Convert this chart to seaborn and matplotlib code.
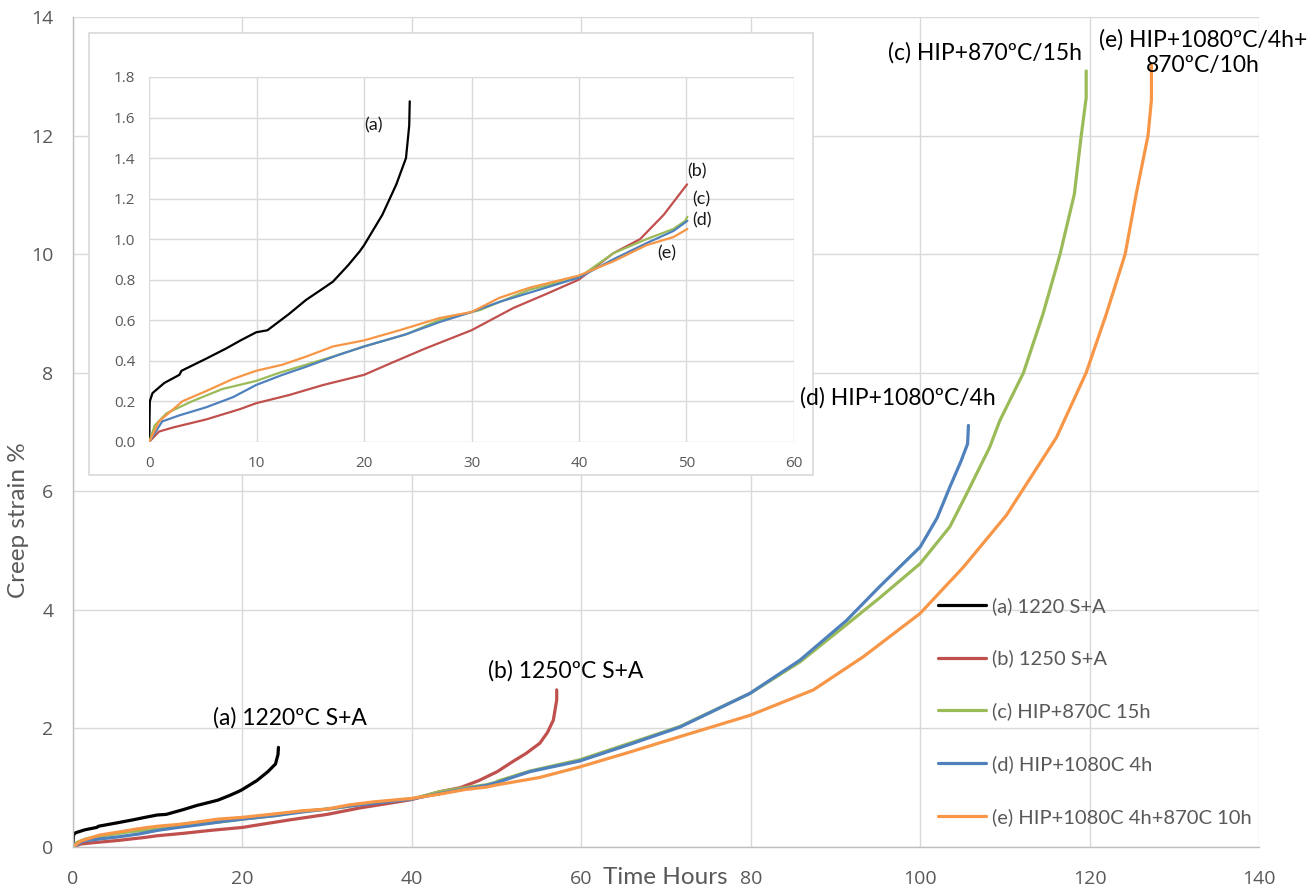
import numpy as np
import pandas as pd
import matplotlib
matplotlib.use("Agg")
import matplotlib.pyplot as plt
from matplotlib.patches import Rectangle
from matplotlib.lines import Line2D
import seaborn as sns

# ---------------- data ----------------
series_names = ["(a) 1220 S+A", "(b) 1250 S+A", "(c) HIP+870C 15h",
                "(d) HIP+1080C 4h", "(e) HIP+1080C 4h+870C 10h"]
series_colors = ["#000000", "#c0504d", "#9bbb59", "#4f81bd", "#f79646"]

t_a = [0, 0.02, 0.05, 0.3, 1.4, 2.8, 3.0, 5.3, 7.15, 8.5, 9.95, 11.0, 11.5, 13.0,
       14.6, 16.0, 17.1, 18.5, 19.6, 20.0, 21.7, 23.0, 23.9, 24.2, 24.25]
s_a = [0, 0.12, 0.20, 0.24, 0.29, 0.33, 0.35, 0.41, 0.46, 0.50, 0.54, 0.55, 0.57, 0.63,
       0.70, 0.75, 0.79, 0.87, 0.94, 0.97, 1.12, 1.27, 1.40, 1.56, 1.68]

t_b = [0, 0.9, 2.2, 5.3, 8.4, 9.95, 13.0, 16.2, 20.0, 22.6, 25.7, 30.0, 33.9, 37.0,
       40.0, 43.2, 45.7, 47.9, 50.07, 51.9, 53.5, 55.1, 56.0, 56.7, 57.1, 57.1]
s_b = [0, 0.05, 0.07, 0.11, 0.16, 0.19, 0.23, 0.28, 0.33, 0.39, 0.46, 0.55, 0.66, 0.73,
       0.80, 0.93, 1.00, 1.12, 1.27, 1.44, 1.58, 1.75, 1.93, 2.14, 2.48, 2.65]

t_c = [0, 0.5, 1.6, 4.0, 6.8, 9.95, 12.1, 14.6, 17.7, 20.0, 23.9, 27.0, 30.8, 35.4,
       40.0, 43.2, 46.3, 48.8, 49.9, 50.1, 53.9, 59.8, 65.7, 71.6, 79.9, 85.8, 91.3,
       95.2, 100.0, 103.5, 105.5, 108.2, 109.4, 112.2, 114.5, 116.5, 118.2, 119.0,
       119.6, 119.6]
s_c = [0, 0.08, 0.14, 0.20, 0.26, 0.30, 0.34, 0.38, 0.43, 0.47, 0.53, 0.60, 0.65, 0.75,
       0.81, 0.93, 1.00, 1.05, 1.09, 1.11, 1.28, 1.47, 1.75, 2.03, 2.59, 3.12, 3.75,
       4.20, 4.78, 5.40, 5.96, 6.74, 7.19, 8.00, 8.99, 9.99, 11.01, 11.98,
       12.64, 13.09]

t_d = [0, 1.2, 2.8, 5.3, 7.8, 9.95, 12.4, 14.6, 17.7, 20.0, 23.9, 27.0, 30.0, 32.6,
       40.0, 43.2, 46.3, 48.8, 50.1, 53.9, 59.8, 65.7, 71.6, 79.9, 85.8, 91.3, 95.2,
       100.0, 102.0, 103.5, 104.8, 105.6, 105.7]
s_d = [0, 0.10, 0.13, 0.17, 0.22, 0.28, 0.33, 0.37, 0.43, 0.47, 0.53, 0.59, 0.64, 0.69,
       0.81, 0.90, 0.98, 1.04, 1.09, 1.27, 1.45, 1.73, 2.02, 2.59, 3.15, 3.82, 4.39,
       5.06, 5.55, 6.07, 6.50, 6.80, 7.11]

t_e = [0, 0.9, 3.1, 5.3, 7.8, 9.95, 12.4, 14.6, 17.1, 20.0, 23.3, 27.0, 30.0, 32.6,
       35.4, 40.0, 43.2, 46.3, 48.8, 50.1, 55.0, 59.8, 65.7, 71.6, 79.9, 87.4, 93.3,
       100.0, 105.1, 110.2, 116.1, 119.6, 122.0, 124.2, 125.5, 126.9, 127.3, 127.3]
s_e = [0, 0.10, 0.20, 0.25, 0.31, 0.35, 0.38, 0.42, 0.47, 0.50, 0.55, 0.61, 0.64, 0.71,
       0.76, 0.82, 0.89, 0.97, 1.01, 1.05, 1.17, 1.35, 1.60, 1.86, 2.22, 2.65, 3.21,
       3.94, 4.72, 5.60, 6.91, 8.00, 9.00, 10.0, 11.01, 12.0, 12.6, 13.2]

main_xticks = [0, 20, 40, 60, 80, 100, 120, 140]
main_yticks = [0, 2, 4, 6, 8, 10, 12, 14]
inset_xticks = [0, 10, 20, 30, 40, 50, 60]
inset_yticks = [0.0, 0.2, 0.4, 0.6, 0.8, 1.0, 1.2, 1.4, 1.6, 1.8]
inset_tmax = 50.1

main_notes = ["(a) 1220ºC S+A", "(b) 1250ºC S+A", "(d) HIP+1080ºC/4h",
              "(c) HIP+870ºC/15h", "(e) HIP+1080ºC/4h+\n870ºC/10h"]
main_note_xy = [(25.6, 2.18), (58.2, 2.97), (97.4, 7.57), (107.7, 13.39), (133.4, 13.4)]
inset_notes = ["(a)", "(b)", "(c)", "(d)", "(e)"]
inset_note_xy = [(20.9, 1.56), (50.95, 1.335), (51.4, 1.195), (51.5, 1.09), (48.2, 0.93)]

# ---------------- build table ----------------
all_t = [t_a, t_b, t_c, t_d, t_e]
all_s = [s_a, s_b, s_c, s_d, s_e]
frames = []
for name, tt, ss in zip(series_names, all_t, all_s):
    frames.append(pd.DataFrame({"t": tt, "s": ss, "series": name}))
df = pd.concat(frames, ignore_index=True)
df_inset = df[df["t"] <= inset_tmax]
palette = dict(zip(series_names, series_colors))

# ---------------- style ----------------
sns.set_theme(style="white")
plt.rcParams["font.family"] = ["Lato", "DejaVu Sans"]
GRID = "#d9d9d9"
TXT = "#595959"

W, H = 1311, 890
fig = plt.figure(figsize=(W / 100, H / 100), dpi=100)
fig.patch.set_facecolor("white")


def fx(px):
    return px / W


def fy(py):
    return 1 - py / H


# main axes: plot area 73..1259 x, 17..847 y (pixels)
ax = fig.add_axes([fx(73), fy(847), fx(1259) - fx(73), fy(17) - fy(847)], zorder=0)
sns.lineplot(data=df, x="t", y="s", hue="series", hue_order=series_names,
             palette=palette, units="series", estimator=None, sort=False,
             linewidth=2.3, ax=ax, legend=False)
ax.set_xlim(0, 140)
ax.set_ylim(0, 14)
ax.set_xticks(main_xticks)
ax.set_yticks(main_yticks)
ax.set_xticklabels([str(v) for v in main_xticks], family="Open Sans", fontsize=14, color=TXT)
ax.set_yticklabels([str(v) for v in main_yticks], family="Open Sans", fontsize=14, color=TXT)
ax.tick_params(axis="x", length=0, pad=16.5)
ax.tick_params(axis="y", length=0, pad=14)
ax.grid(True, color=GRID, linewidth=1.0)
for side in ["top", "right"]:
    ax.spines[side].set_visible(False)
for side in ["left", "bottom"]:
    ax.spines[side].set_color("#bfbfbf")
    ax.spines[side].set_linewidth(1.0)
ax.set_xlabel("Time Hours", fontsize=17.5, color=TXT)
ax.xaxis.set_label_coords((603 - 73) / 1186, (847 - 878) / 830)
ax.xaxis.label.set_horizontalalignment("left")
ax.xaxis.label.set_verticalalignment("center")
ax.set_ylabel("Creep strain %", fontsize=17.5, color=TXT)
ax.yaxis.set_label_coords((19 - 73) / 1186, (847 - 520) / 830)
ax.yaxis.label.set_verticalalignment("center")

# legend
handles = [Line2D([], [], color=c, linewidth=2.3) for c in series_colors]
leg = ax.legend(handles, series_names, loc="upper left",
                bbox_to_anchor=((938 - 73) / 1186, (847 - 597) / 830),
                frameon=False, fontsize=14.5, labelcolor=TXT,
                handlelength=2.4, handletextpad=0.3, labelspacing=1.73,
                borderpad=0, borderaxespad=0)

# inset frame (figure-level white box)
frame = Rectangle((fx(88.5), fy(475)), fx(813) - fx(88.5), fy(33) - fy(475),
                  transform=fig.transFigure, facecolor="white", edgecolor=GRID,
                  linewidth=1.2, zorder=1)
fig.patches.append(frame)

# inset axes: plot area 149.3..793.7 x, 77..441.7 y
axi = fig.add_axes([fx(149.3), fy(441.7), fx(793.7) - fx(149.3), fy(77) - fy(441.7)], zorder=2)
sns.lineplot(data=df_inset, x="t", y="s", hue="series", hue_order=series_names,
             palette=palette, units="series", estimator=None, sort=False,
             linewidth=1.6, ax=axi, legend=False)
axi.set_xlim(0, 60)
axi.set_ylim(0, 1.8)
axi.set_xticks(inset_xticks)
axi.set_yticks(inset_yticks)
axi.set_xticklabels([str(v) for v in inset_xticks], family="Open Sans", fontsize=11, color=TXT)
axi.set_yticklabels([f"{v:.1f}" for v in inset_yticks], family="Open Sans", fontsize=11, color=TXT)
axi.tick_params(length=0, pad=10)
axi.grid(True, color=GRID, linewidth=1.0)
for side in axi.spines:
    axi.spines[side].set_visible(False)
axi.set_xlabel("")
axi.set_ylabel("")
axi.set_facecolor("white")
for txt, (x, y) in zip(inset_notes, inset_note_xy):
    axi.text(x, y, txt, fontsize=13, color="#1a1a1a", ha="center", va="center")

# main annotations, drawn above the inset frame
for txt, (x, y) in zip(main_notes, main_note_xy):
    fig.text(x, y, txt, transform=ax.transData, fontsize=16.5, color="black",
             ha="center", va="center", linespacing=1.25, zorder=5)

fig.savefig("out.png", dpi=100, facecolor="white")
